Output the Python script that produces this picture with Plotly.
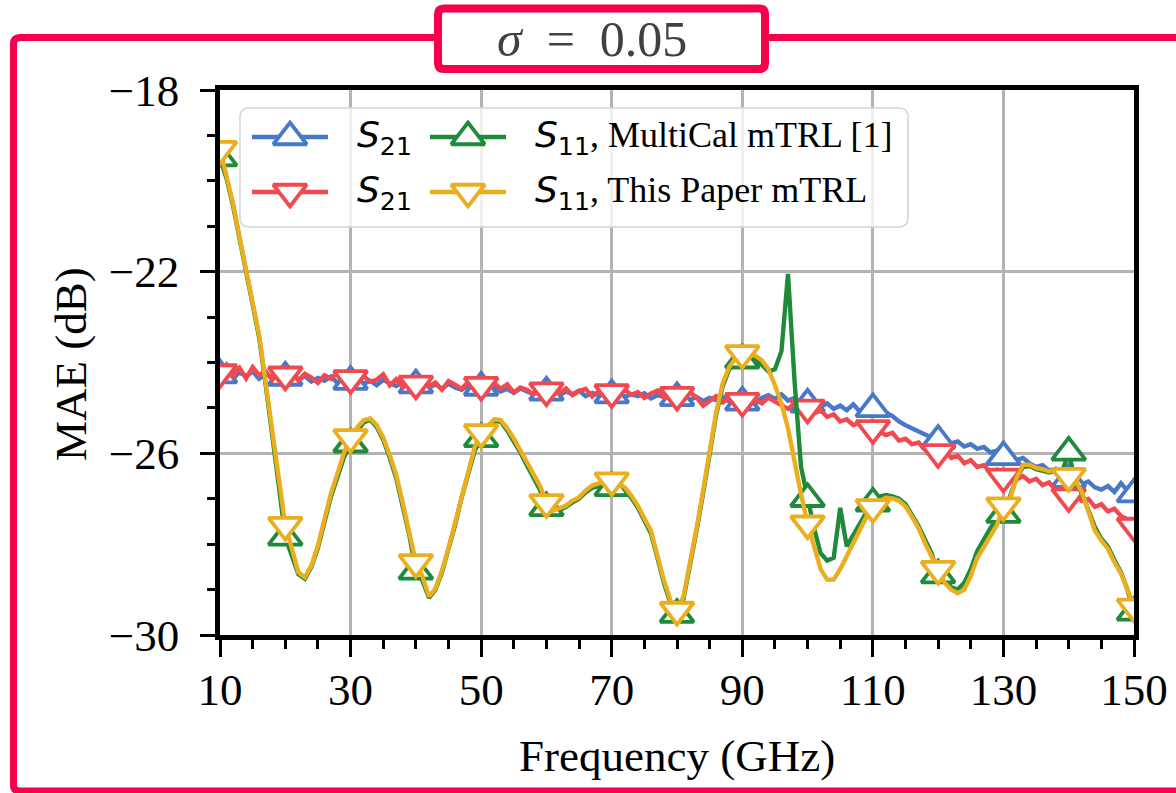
import numpy as np
import plotly.graph_objects as go

# ---------------------------------------------------------------- data
freq = list(range(10, 151))          # GHz, 1 GHz steps
marker_freq = list(range(10, 151, 10))

# S21, MultiCal mTRL [1]
s21_multical = [
    -24.28, -24.18, -24.35, -24.22, -24.30, -24.20, -24.36, -24.25, -24.32, -24.27,
    -24.33, -24.24, -24.38, -24.30, -24.42, -24.34, -24.40, -24.31, -24.45, -24.37,
    -24.42, -24.35, -24.47, -24.40, -24.50, -24.38, -24.46, -24.52, -24.43, -24.49,
    -24.50, -24.44, -24.56, -24.48, -24.58, -24.47, -24.55, -24.60, -24.50, -24.57,
    -24.55, -24.61, -24.52, -24.64, -24.58, -24.67, -24.57, -24.63, -24.70, -24.60,
    -24.66, -24.60, -24.72, -24.64, -24.70, -24.62, -24.74, -24.67, -24.72, -24.68,
    -24.72, -24.66, -24.76, -24.70, -24.74, -24.68, -24.79, -24.72, -24.76, -24.70,
    -24.78, -24.72, -24.82, -24.76, -24.85, -24.78, -24.83, -24.76, -24.86, -24.80,
    -24.88, -24.82, -24.90, -24.78, -24.72, -24.80, -24.70, -24.84, -24.78, -24.88,
    -24.92, -24.85, -24.98, -24.90, -25.02, -24.95, -25.05, -24.92, -25.08, -24.98,
    -25.02, -24.95, -25.10, -25.18, -25.30, -25.38, -25.45, -25.52, -25.60, -25.66,
    -25.72, -25.68, -25.78, -25.74, -25.85, -25.80, -25.90, -25.86, -25.98, -25.94,
    -26.08, -26.02, -26.15, -26.10, -26.22, -26.30, -26.26, -26.38, -26.34, -26.48,
    -26.58, -26.52, -26.68, -26.62, -26.75, -26.80, -26.72, -26.85, -26.66, -26.82,
    -26.90,
]

# S21, this paper mTRL
s21_this = [
    -24.22, -24.05, -24.30, -24.12, -24.35, -24.10, -24.28, -24.20, -24.38, -24.18,
    -24.27, -24.15, -24.40, -24.25, -24.33, -24.45, -24.28, -24.36, -24.22, -24.41,
    -24.35, -24.48, -24.30, -24.42, -24.38, -24.26, -24.50, -24.37, -24.55, -24.40,
    -24.47, -24.36, -24.52, -24.44, -24.60, -24.41, -24.49, -24.58, -24.43, -24.56,
    -24.50, -24.62, -24.45, -24.58, -24.48, -24.66, -24.55, -24.60, -24.70, -24.52,
    -24.62, -24.55, -24.68, -24.57, -24.72, -24.63, -24.58, -24.75, -24.64, -24.69,
    -24.66, -24.74, -24.60, -24.71, -24.65, -24.78, -24.68, -24.62, -24.76, -24.70,
    -24.72, -24.80, -24.66, -24.77, -24.95, -24.83, -24.74, -24.88, -24.79, -24.92,
    -24.85, -24.97, -24.82, -24.90, -24.78, -24.86, -24.93, -25.02, -24.90, -25.05,
    -25.00, -25.12, -25.05, -25.20, -25.14, -25.30, -25.25, -25.38, -25.32, -25.45,
    -25.45, -25.52, -25.60, -25.55, -25.72, -25.68, -25.80, -25.76, -25.92, -25.86,
    -25.98, -25.93, -26.10, -26.05, -26.22, -26.15, -26.30, -26.26, -26.42, -26.36,
    -26.52, -26.45, -26.58, -26.50, -26.62, -26.56, -26.70, -26.64, -26.82, -26.78,
    -26.95, -26.90, -27.05, -27.00, -27.18, -27.12, -27.28, -27.22, -27.38, -27.45,
    -27.60,
]

# S11, MultiCal mTRL [1]
s11_multical = [
    -19.50, -19.95, -20.55, -21.30, -22.00, -22.70, -23.45, -24.50, -25.55, -26.70,
    -27.85, -28.25, -28.66, -28.76, -28.50, -28.08, -27.48, -26.95, -26.52, -26.08,
    -25.80, -25.52, -25.32, -25.26, -25.42, -25.70, -26.10, -26.55, -27.18, -27.80,
    -28.60, -28.80, -29.18, -29.00, -28.62, -28.14, -27.58, -26.98, -26.44, -25.95,
    -25.68, -25.45, -25.30, -25.30, -25.50, -25.72, -25.98, -26.26, -26.55, -26.80,
    -27.20, -27.30, -27.25, -27.18, -27.08, -27.00, -26.86, -26.76, -26.72, -26.70,
    -26.76, -26.72, -26.80, -26.98, -27.20, -27.48, -27.76, -28.30, -28.86, -29.30,
    -29.55, -29.20, -28.50, -27.70, -26.88, -26.00, -25.15, -24.52, -24.15, -23.98,
    -23.95, -23.85, -23.90, -24.05, -24.20, -24.15, -23.75, -22.05, -24.40, -26.30,
    -27.00, -27.65, -28.20, -28.36, -28.30, -27.20, -28.05, -27.78, -27.55, -27.30,
    -27.10, -26.95, -26.92, -26.95, -27.00, -27.12, -27.35, -27.60, -27.90, -28.20,
    -28.68, -28.75, -28.95, -29.00, -28.85, -28.55, -28.15, -27.90, -27.65, -27.45,
    -27.35, -26.95, -26.55, -26.30, -26.28, -26.35, -26.38, -26.42, -26.38, -26.40,
    -25.98, -26.62, -26.88, -27.25, -27.62, -27.88, -28.05, -28.35, -28.62, -29.00,
    -29.50,
]

# S11, this paper mTRL
s11_this = [
    -19.30, -19.90, -20.50, -21.25, -21.95, -22.65, -23.40, -24.45, -25.49, -26.60,
    -27.58, -28.09, -28.62, -28.73, -28.47, -28.03, -27.41, -26.88, -26.44, -25.98,
    -25.65, -25.43, -25.27, -25.23, -25.38, -25.65, -26.04, -26.48, -27.10, -27.70,
    -28.40, -28.71, -29.15, -28.98, -28.58, -28.09, -27.52, -26.93, -26.37, -25.87,
    -25.54, -25.38, -25.25, -25.27, -25.45, -25.67, -25.93, -26.20, -26.48, -26.71,
    -27.08, -27.26, -27.21, -27.15, -27.04, -26.97, -26.82, -26.71, -26.66, -26.64,
    -26.60, -26.66, -26.75, -26.93, -27.15, -27.43, -27.70, -28.25, -28.80, -29.24,
    -29.45, -29.15, -28.45, -27.65, -26.82, -25.93, -25.10, -24.46, -24.10, -23.90,
    -23.80, -23.78, -23.85, -23.95, -24.15, -24.50, -24.90, -25.45, -26.20, -26.90,
    -27.55, -28.05, -28.55, -28.78, -28.78, -28.55, -28.25, -27.98, -27.70, -27.40,
    -27.19, -27.05, -26.98, -26.99, -27.04, -27.17, -27.40, -27.65, -27.98, -28.27,
    -28.55, -28.85, -29.00, -29.08, -29.00, -28.70, -28.30, -28.05, -27.80, -27.58,
    -27.15, -27.00, -26.55, -26.25, -26.25, -26.32, -26.35, -26.40, -26.36, -26.40,
    -26.50, -26.60, -26.85, -27.30, -27.70, -27.92, -28.10, -28.40, -28.65, -29.00,
    -29.38,
]

x_ticks = [10, 30, 50, 70, 90, 110, 130, 150]
y_ticks = [-30, -26, -22, -18]

S21 = ("<span style='font-family:DejaVu Sans'>"
       "<span style='font-style:oblique'>S</span><sub>21</sub></span>")
S11 = ("<span style='font-family:DejaVu Sans'>"
       "<span style='font-style:oblique'>S</span><sub>11</sub></span>")
legend_labels = [
    S21,
    S21,
    S11 + ", MultiCal mTRL [1]",
    S11 + ", This Paper mTRL",
]
title_text = "<i>σ</i>\u2002=\u20020.05"

# ---------------------------------------------------------------- style
BLUE = "#4878C8"
RED = "#F04A50"
GREEN = "#1F8A3A"
ORANGE = "#EAAE1F"
FRAME = "#F5004B"
SERIF = "Liberation Serif"

W, H = 1176, 793
ML, MR, MT, MB = 220, 42, 90, 158
PW, PH = W - ML - MR, H - MT - MB


def X(p):
    """pixel column -> paper x"""
    return (p - ML) / PW


def Y(p):
    """pixel row -> paper y"""
    return (H - MB - p) / PH


def rounded_rect_points(x0, y0, x1, y1, r, n=10):
    xs, ys = [], []
    corners = [(x1 - r, y0 + r, -90, 0), (x1 - r, y1 - r, 0, 90),
               (x0 + r, y1 - r, 90, 180), (x0 + r, y0 + r, 180, 270)]
    for cx, cy, a0, a1 in corners:
        for a in np.radians(np.linspace(a0, a1, n)):
            xs.append(cx + r * np.cos(a))
            ys.append(cy + r * np.sin(a))
    xs.append(xs[0])
    ys.append(ys[0])
    return xs, ys


def rounded_rect_path(x0, y0, x1, y1, r):
    return (f"M {X(x0 + r)},{Y(y0)} L {X(x1 - r)},{Y(y0)} Q {X(x1)},{Y(y0)} {X(x1)},{Y(y0 + r)} "
            f"L {X(x1)},{Y(y1 - r)} Q {X(x1)},{Y(y1)} {X(x1 - r)},{Y(y1)} "
            f"L {X(x0 + r)},{Y(y1)} Q {X(x0)},{Y(y1)} {X(x0)},{Y(y1 - r)} "
            f"L {X(x0)},{Y(y0 + r)} Q {X(x0)},{Y(y0)} {X(x0 + r)},{Y(y0)} Z")


fig = go.Figure()

series = [
    (s21_multical, BLUE, "triangle-up"),
    (s21_this, RED, "triangle-down"),
    (s11_multical, GREEN, "triangle-up"),
    (s11_this, ORANGE, "triangle-down"),
]

MSIZE = 29
MLW = 3.8
LW = 4.4

for vals, color, sym in series:
    fig.add_trace(go.Scatter(
        x=freq, y=vals, mode="lines",
        line=dict(color=color, width=LW),
        showlegend=False, hoverinfo="skip"))
    mv = [vals[freq.index(f)] for f in marker_freq]
    fig.add_trace(go.Scatter(
        x=marker_freq, y=mv, mode="markers",
        marker=dict(symbol=sym, size=MSIZE, color="white",
                    line=dict(color=color, width=MLW)),
        showlegend=False, hoverinfo="skip"))

# ---------------------------------------------------------------- legend (pixel-space overlay axes)
bx, by = rounded_rect_points(240, 108, 908, 227, 8)
fig.add_trace(go.Scatter(
    x=bx, y=by, xaxis="x2", yaxis="y2", mode="lines", fill="toself",
    fillcolor="rgba(255,255,255,0.8)", line=dict(color="#d4d4d4", width=1.5),
    showlegend=False, hoverinfo="skip"))

handles = [
    (252, 328, 290, 137, BLUE, "triangle-up", 355),
    (252, 328, 290, 192, RED, "triangle-down", 355),
    (430, 506, 468, 137, GREEN, "triangle-up", 533),
    (430, 506, 468, 192, ORANGE, "triangle-down", 533),
]
annotations = []
for (x0, x1, xm, yc, color, sym, tx), label in zip(handles, legend_labels):
    fig.add_trace(go.Scatter(
        x=[x0, x1], y=[yc, yc], xaxis="x2", yaxis="y2", mode="lines",
        line=dict(color=color, width=LW), showlegend=False, hoverinfo="skip"))
    fig.add_trace(go.Scatter(
        x=[xm], y=[yc], xaxis="x2", yaxis="y2", mode="markers",
        marker=dict(symbol=sym, size=MSIZE, color="white",
                    line=dict(color=color, width=MLW)),
        showlegend=False, hoverinfo="skip"))
    annotations.append(dict(
        x=tx, y=yc, xref="x2", yref="y2", text=label, showarrow=False,
        xanchor="left", yanchor="middle",
        font=dict(family=SERIF, size=36, color="black")))

# axis titles
annotations.append(dict(
    x=X(677), y=Y(756), xref="paper", yref="paper", text="Frequency (GHz)",
    showarrow=False, xanchor="center", yanchor="middle",
    font=dict(family=SERIF, size=45, color="black")))
annotations.append(dict(
    x=X(71), y=Y(364), xref="paper", yref="paper", text="MAE (dB)",
    showarrow=False, xanchor="center", yanchor="middle", textangle=-90,
    font=dict(family=SERIF, size=45, color="black")))

# ---------------------------------------------------------------- frame and title box
frame_path = (f"M {X(1200)},{Y(37.5)} L {X(20)},{Y(37.5)} Q {X(13.5)},{Y(37.5)} {X(13.5)},{Y(44)} "
              f"L {X(13.5)},{Y(785)} Q {X(13.5)},{Y(791)} {X(20)},{Y(791)} L {X(1200)},{Y(791)}")
shapes = [
    dict(type="path", xref="paper", yref="paper", path=frame_path,
         line=dict(color=FRAME, width=7), fillcolor="rgba(0,0,0,0)", layer="above"),
    dict(type="path", xref="paper", yref="paper",
         path=rounded_rect_path(438, 8.5, 765, 69, 6),
         line=dict(color=FRAME, width=8), fillcolor="white", layer="above"),
]
annotations.append(dict(
    x=X(592), y=Y(39), xref="paper", yref="paper", text=title_text,
    showarrow=False, xanchor="center", yanchor="middle",
    font=dict(family=SERIF, size=50, color="#404040")))

axis_common = dict(
    showline=True, linecolor="black", linewidth=4.5, mirror=True,
    ticks="outside", tickcolor="black", tickwidth=3,
    showgrid=True, gridcolor="#b3b3b3", gridwidth=3,
    zeroline=False, automargin=False,
    tickfont=dict(family=SERIF, size=45, color="black"),
)

fig.update_layout(
    width=W, height=H,
    margin=dict(l=ML, r=MR, t=MT, b=MB, pad=0),
    paper_bgcolor="white", plot_bgcolor="white",
    showlegend=False,
    xaxis=dict(range=[10, 150], tickvals=x_ticks, ticklen=17,
               ticklabelstandoff=-6,
               minor=dict(dtick=5, tick0=10, ticks="outside", ticklen=9,
                          tickwidth=2.5, tickcolor="black", showgrid=False),
               **axis_common),
    yaxis=dict(range=[-30, -18], tickvals=y_ticks, ticklen=15,
               ticklabelstandoff=12,
               minor=dict(dtick=1, tick0=-30, ticks="outside", ticklen=8,
                          tickwidth=2.5, tickcolor="black", showgrid=False),
               **axis_common),
    xaxis2=dict(overlaying="x", anchor="y2", range=[ML, W - MR], visible=False,
                fixedrange=True),
    yaxis2=dict(overlaying="y", anchor="x2", range=[H - MB, MT], visible=False,
                fixedrange=True),
    shapes=shapes,
    annotations=annotations,
)

fig.write_html("out.html")
